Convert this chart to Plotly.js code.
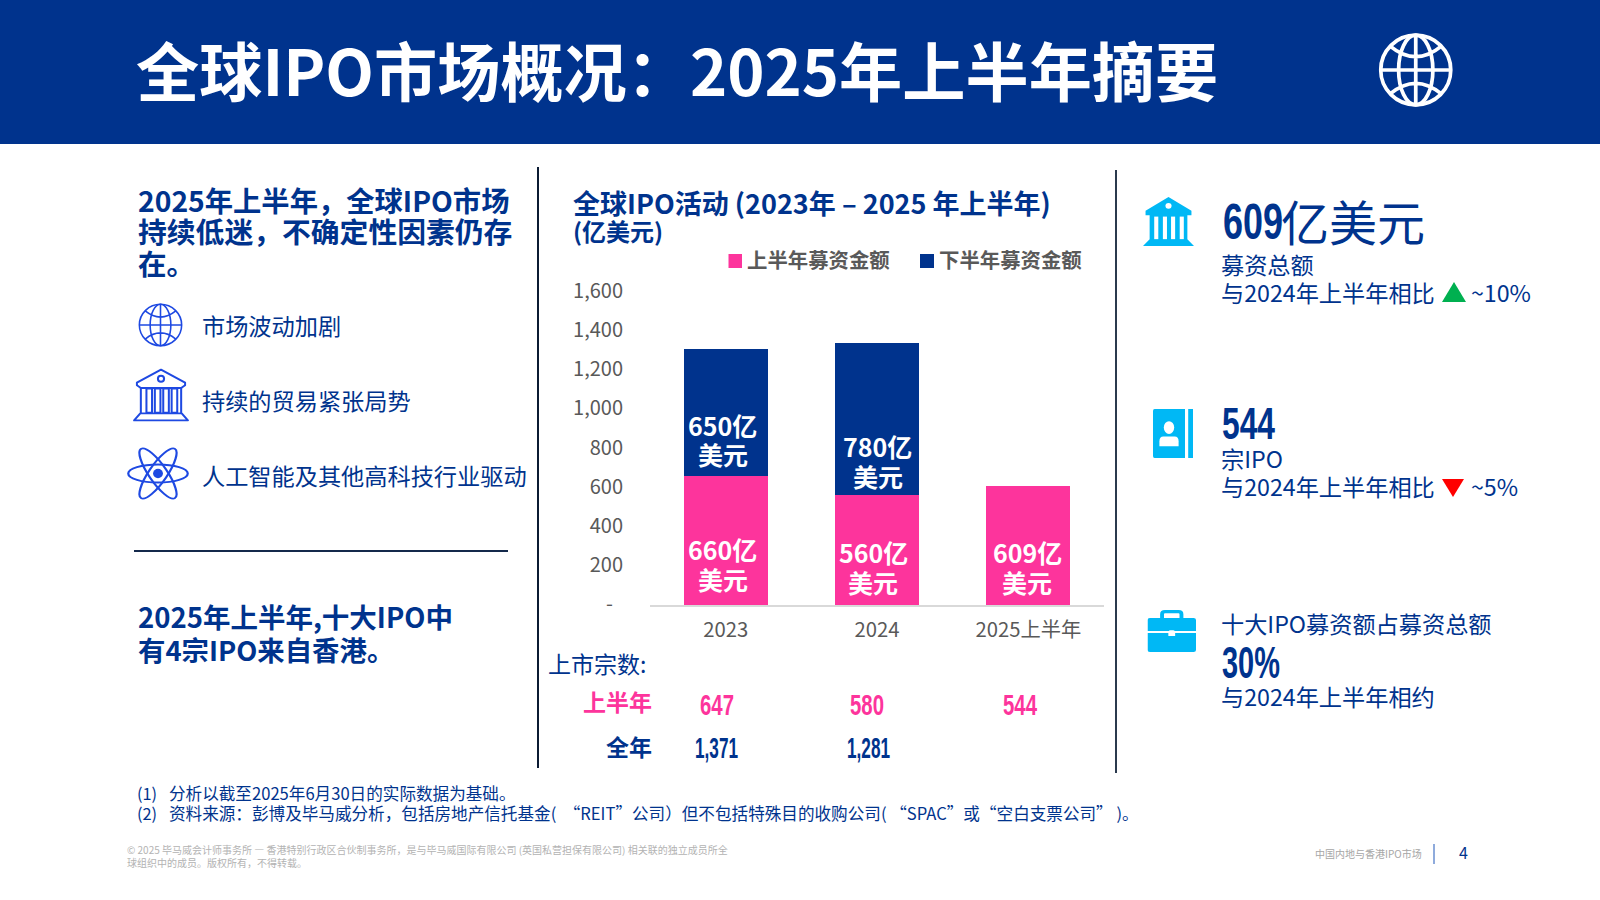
<!DOCTYPE html>
<html lang="zh-CN">
<head>
<meta charset="utf-8">
<title>全球IPO市场概况</title>
<script src="https://cdn.plot.ly/plotly-3.0.1.min.js"></script>
<style>html,body{margin:0;padding:0;background:#fff}#chart{width:1600px;height:900px}</style>
</head>
<body>
<div id="chart"></div>
<script>
const categories = ['2023', '2024', '2025上半年'];
const firstHalf = [660, 560, 609];
const secondHalf = [650, 780, null];
const yTickValues = [0, 200, 400, 600, 800, 1000, 1200, 1400, 1600];
const yTickLabels = ['-\u2002', '200', '400', '600', '800', '1,000', '1,200', '1,400', '1,600'];
const listingsFirstHalf = ['647', '580', '544'];
const listingsFullYear = ['1,371', '1,281', ''];
const firstHalfName = '上半年募资金额';
const secondHalfName = '下半年募资金额';

const NAVY = '#00338D', PINK = '#FD349C', CYAN = '#00B8F5', ICON = '#1E49E2', GREY = '#595959';
const CJK = '"Noto Sans CJK SC","Noto Sans",sans-serif';
const LATIN = '"Liberation Sans",sans-serif';
const W = 1600, H = 900;
const px = x => x / W, py = y => 1 - y / H;

const annotations = [];
function txt(x, y, text, size, color, o = {}) {
  annotations.push({
    xref: 'paper', yref: 'paper', x: px(x - 1), y: py(y - 2), text,
    xanchor: o.anchor || 'left', yanchor: 'middle', showarrow: false,
    borderpad: 0, borderwidth: 0, align: o.anchor === 'center' ? 'center' : (o.anchor || 'left'),
    font: { family: o.family || CJK, size, color, weight: o.bold ? 700 : 400 }
  });
}
// Condensed figures: no condensed face is installed, so the glyphs are squeezed to the reference width.
const squeezed = [];
function num(x, y, text, size, color, width) {
  squeezed.push({ index: annotations.length, width });
  txt(x + 1, y + 2, text, size, color, { bold: true, family: LATIN });
}
const shapes = [];
function rect(x0, y0, x1, y1, color) {
  shapes.push({ type: 'rect', xref: 'paper', yref: 'paper', x0: px(x0), x1: px(x1), y0: py(y0), y1: py(y1),
    fillcolor: color, line: { width: 0 }, layer: 'below' });
}
function line(x0, y0, x1, y1, color, width) {
  shapes.push({ type: 'line', xref: 'paper', yref: 'paper', x0: px(x0), x1: px(x1), y0: py(y0), y1: py(y1),
    line: { color, width }, layer: 'above' });
}
function tri(x0, y0, x1, y1, color, up) {
  const xm = (x0 + x1) / 2;
  const p = up ? [[xm, y0], [x1, y1], [x0, y1]] : [[x0, y0], [x1, y0], [xm, y1]];
  shapes.push({ type: 'path', xref: 'paper', yref: 'paper',
    path: 'M' + p.map(q => px(q[0]) + ',' + py(q[1])).join('L') + 'Z',
    fillcolor: color, line: { width: 0 }, layer: 'above' });
}
const images = [];
function icon(x0, y0, x1, y1, vb, body) {
  const svg = `<svg xmlns="http://www.w3.org/2000/svg" viewBox="${vb}" preserveAspectRatio="none">${body}</svg>`;
  images.push({ source: 'data:image/svg+xml;base64,' + btoa(svg), xref: 'paper', yref: 'paper',
    x: px(x0), y: py(y0), sizex: (x1 - x0) / W, sizey: (y1 - y0) / H,
    xanchor: 'left', yanchor: 'top', sizing: 'stretch', layer: 'above' });
}
const globe = (c, s) => `<g fill="none" stroke="${c}" stroke-width="${s}"><circle cx="50" cy="50" r="47"/><ellipse cx="50" cy="50" rx="23" ry="47"/><path d="M50 3V97M3 50H97M16 18Q50 46 84 18M16 82Q50 54 84 82"/></g>`;
const bank = c => `<g fill="none" stroke="${c}" stroke-width="3.6" stroke-linejoin="round"><path d="M50 3L7 27V32L14 37H86L93 32V27Z"/><circle cx="50" cy="20" r="5.5"/><rect x="24" y="38" width="10" height="45"/><rect x="39" y="38" width="10" height="45"/><rect x="54" y="38" width="10" height="45"/><rect x="69" y="38" width="10" height="45"/><path d="M14 37V83M86 37V83M13 84H87L98 97H2Z"/></g>`;
const atom = c => `<g fill="none" stroke="${c}" stroke-width="3.6"><ellipse cx="50" cy="50" rx="48" ry="17"/><ellipse cx="50" cy="50" rx="54" ry="15" transform="rotate(60 50 50)"/><ellipse cx="50" cy="50" rx="54" ry="15" transform="rotate(120 50 50)"/></g><ellipse cx="50" cy="50" rx="8" ry="9" fill="${c}"/>`;
const bankSolid = c => `<path fill="${c}" d="M50 0L5 28V37H95V28ZM13 37H87V86H13ZM13 86H87L100 100H0Z"/><circle cx="50" cy="18" r="6" fill="#fff"/><g fill="#fff"><rect x="22" y="40" width="8" height="46"/><rect x="39" y="40" width="8" height="46"/><rect x="55" y="40" width="8" height="46"/><rect x="72" y="40" width="8" height="46"/></g>`;
const contact = (c) => `<path fill="${c}" d="M0 4Q0 0 4 0H80V100H4Q0 100 0 96Z"/><rect x="88" y="0" width="12" height="100" fill="${c}"/><circle cx="40" cy="38" r="13" fill="#fff"/><path fill="#fff" d="M16 76V66Q16 56 26 56H54Q64 56 64 66V76Z"/>`;
const brief = (c) => `<path fill="none" stroke="${c}" stroke-width="8" d="M30 22V10Q30 4 36 4H64Q70 4 70 10V22"/><path fill="${c}" d="M0 24Q0 19 5 19H95Q100 19 100 24V50H0ZM0 55H43V62H57V55H100V95Q100 100 95 100H5Q0 100 0 95Z"/><rect x="44" y="48" width="12" height="10" rx="3" fill="#fff"/>`;

// Header
rect(0, 0, 1600, 144, NAVY);
txt(137, 70, '全球IPO市场概况：2025年上半年摘要', 63.2, '#FFFFFF', { bold: true });
icon(1378.5, 33, 1453, 107, '0 0 100 100', globe('#fff', 5));

// Left column
txt(139, 201, '2025年上半年，全球IPO市场', 28.3, NAVY, { bold: true });
txt(139, 233, '持续低迷，不确定性因素仍存', 28.8, NAVY, { bold: true });
txt(139, 265, '在。', 28.5, NAVY, { bold: true });
icon(138, 303, 183, 347, '0 0 100 100', globe(ICON, 3.5));
icon(133, 368, 189, 422, '0 0 100 100', bank(ICON));
icon(127, 447, 189, 500, '0 0 100 100', atom(ICON));
txt(203, 327, '市场波动加剧', 23.2, NAVY);
txt(203, 402, '持续的贸易紧张局势', 23.2, NAVY);
txt(203, 477, '人工智能及其他高科技行业驱动', 23.2, NAVY);
line(134, 551, 508, 551, '#14294B', 2);
txt(139, 618, '2025年上半年,十大IPO中', 27.5, NAVY, { bold: true });
txt(139, 651, '有4宗IPO来自香港。', 27.4, NAVY, { bold: true });

// Dividers
line(538, 167, 538, 768, '#0B1B33', 2);
line(1116, 170, 1116, 773, '#2B3A4E', 2);

// Chart heading and legend
txt(574, 204, '全球IPO活动 (2023年 – 2025 年上半年)', 27, NAVY, { bold: true });
txt(574, 233, '(亿美元)', 24, NAVY, { bold: true });
rect(728.5, 254, 742, 268, PINK);
txt(748, 261, firstHalfName, 20.4, GREY, { bold: true });
rect(920, 254, 934, 268, NAVY);
txt(940, 261, secondHalfName, 20.4, GREY, { bold: true });

// Bar labels
[[722, 427, '650亿'], [723, 456, '美元'], [722, 551, '660亿'], [723, 581, '美元'],
 [877, 448, '780亿'], [878, 478, '美元'], [873, 554, '560亿'], [873, 584, '美元'],
 [1027, 554, '609亿'], [1027, 584, '美元']].forEach(a =>
  txt(a[0] + 1, a[1], a[2], 25, '#FFFFFF', { bold: true, anchor: 'center' }));

// Listing counts
txt(548.5, 665, '上市宗数:', 23, NAVY);
txt(652.5, 703, '上半年', 23, PINK, { bold: true, anchor: 'right' });
txt(652.5, 748, '全年', 23, NAVY, { bold: true, anchor: 'right' });
[700, 850, 1003].forEach((x, i) => num(x, 704, listingsFirstHalf[i], 30, PINK, 34));
[695, 847].forEach((x, i) => num(x, 747.5, listingsFullYear[i], 30, NAVY, 43));

// Right column
icon(1143, 197, 1194, 246, '0 0 100 100', bankSolid(CYAN));
num(1222.5, 222, '609', 50, NAVY, 60);
txt(1282, 222, '亿美元', 48, NAVY);
txt(1222, 266, '募资总额', 23.2, NAVY);
txt(1222, 294, '与2024年上半年相比', 23.2, NAVY);
tri(1442, 282, 1466, 302, '#00B050', true);
txt(1472, 294, '~10%', 23.2, NAVY);

icon(1153, 409, 1193, 458, '0 0 100 100', contact(CYAN));
num(1222, 424, '544', 45, NAVY, 53);
txt(1222, 460, '宗IPO', 23.2, NAVY);
txt(1222, 488, '与2024年上半年相比', 23.2, NAVY);
tri(1442, 479, 1464, 497, '#FF0000', false);
txt(1472, 488, '~5%', 23.2, NAVY);

icon(1147.5, 610, 1196, 652, '0 0 100 100', brief(CYAN));
txt(1222, 625, '十大IPO募资额占募资总额', 23.2, NAVY);
num(1222, 662, '30%', 45, NAVY, 58);
txt(1222, 698, '与2024年上半年相约', 23.2, NAVY);

// Notes and footer
txt(138, 795, '(1)', 16.3, NAVY);
txt(170, 795, '分析以截至2025年6月30日的实际数据为基础。', 16.6, NAVY);
txt(138, 815, '(2)', 16.3, NAVY);
txt(170, 815, '资料来源：彭博及毕马威分析，包括房地产信托基金(\u00A0\u00A0“REIT”公司）但不包括特殊目的收购公司(\u00A0“SPAC”或“空白支票公司”\u00A0)。', 16.6, NAVY);
txt(127.5, 851, '© 2025 毕马威会计师事务所 — 香港特别行政区合伙制事务所，是与毕马威国际有限公司 (英国私营担保有限公司) 相关联的独立成员所全', 10, '#B3B3B3');
txt(127.5, 864, '球组织中的成员。版权所有，不得转载。', 10, '#B3B3B3');
txt(1316, 855, '中国内地与香港IPO市场', 10, '#A6A6A6');
line(1434, 844, 1434, 864, '#6A8FD0', 1.5);
txt(1464, 854, '4', 16, NAVY, { anchor: 'center' });

const traces = [
  { type: 'bar', name: firstHalfName, x: categories, y: firstHalf, marker: { color: PINK }, hoverinfo: 'x+y+name' },
  { type: 'bar', name: secondHalfName, x: categories, y: secondHalf, marker: { color: NAVY }, hoverinfo: 'x+y+name' }
];

const layout = {
  width: W, height: H,
  margin: { l: 0, r: 0, t: 0, b: 0, pad: 0 },
  paper_bgcolor: '#FFFFFF', plot_bgcolor: 'rgba(0,0,0,0)',
  showlegend: false,
  barmode: 'stack', bargap: 0.444,
  font: { family: CJK },
  xaxis: {
    domain: [650 / W, 1104 / W], type: 'category', categoryorder: 'array', categoryarray: categories,
    showgrid: false, zeroline: false, showline: true, linecolor: '#D9D9D9', linewidth: 2,
    ticks: '', ticklabelstandoff: 6, tickfont: { family: CJK, size: 20.3, color: GREY }
  },
  yaxis: {
    domain: [1 - 605 / H, 1 - 292 / H], range: [0, 1600], autorange: false,
    showgrid: false, zeroline: false, showline: false, ticks: '',
    tickmode: 'array', tickvals: yTickValues, ticktext: yTickLabels, ticklabelstandoff: 26, ticklabelshift: -1,
    tickfont: { family: CJK, size: 20, color: GREY }
  },
  shapes, annotations, images
};
Plotly.newPlot('chart', traces, layout, { staticPlot: true, displayModeBar: false }).then(gd => {
  squeezed.forEach(s => {
    const t = gd.querySelector(`.annotation[data-index="${s.index}"] text`);
    if (t) { t.setAttribute('textLength', s.width); t.setAttribute('lengthAdjust', 'spacingAndGlyphs'); }
  });
});
</script>
</body>
</html>
